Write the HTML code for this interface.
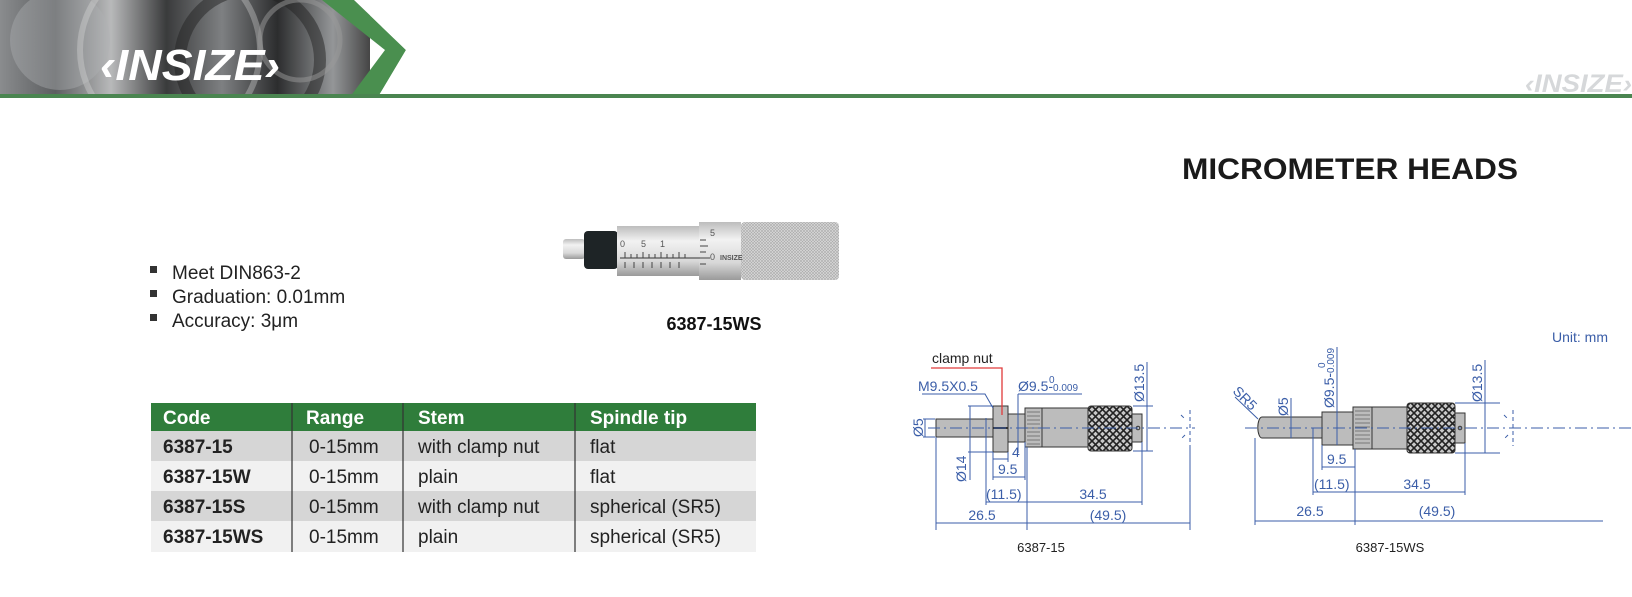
<!DOCTYPE html>
<html><head><meta charset="utf-8"><style>
html,body{margin:0;padding:0;background:#fff;}
svg{display:block;font-family:"Liberation Sans",Arial,sans-serif;}
</style></head><body>
<svg width="1632" height="597" viewBox="0 0 1632 597" xmlns="http://www.w3.org/2000/svg">
<defs>
<linearGradient id="ph" x1="0" x2="1" y1="0" y2="0">
<stop offset="0" stop-color="#8a8c8e"/><stop offset="0.15" stop-color="#5c5e60"/><stop offset="0.3" stop-color="#b8b9ba"/><stop offset="0.45" stop-color="#3a3b3c"/><stop offset="0.6" stop-color="#7e8082"/><stop offset="0.75" stop-color="#2c2d2e"/><stop offset="0.9" stop-color="#949698"/><stop offset="1" stop-color="#454545"/>
</linearGradient>
<clipPath id="hc"><rect x="0" y="0" width="400" height="95"/></clipPath>
<pattern id="kn" width="7" height="7" patternUnits="userSpaceOnUse">
<rect width="7" height="7" fill="#c8c8c8"/>
<path d="M0 0L7 7M7 0L0 7" stroke="#222" stroke-width="1.6"/>
</pattern>
<pattern id="kn2" width="3" height="3" patternUnits="userSpaceOnUse">
<rect width="3" height="3" fill="#d8d8d8"/><path d="M0 0L3 3M3 0L0 3" stroke="#aaa" stroke-width="0.6"/>
</pattern>
<linearGradient id="sil" x1="0" x2="0" y1="0" y2="1">
<stop offset="0" stop-color="#bdbdbd"/><stop offset="0.3" stop-color="#f2f2f2"/><stop offset="0.7" stop-color="#d8d8d8"/><stop offset="1" stop-color="#9a9a9a"/>
</linearGradient>
</defs>

<!-- header -->
<g clip-path="url(#hc)">
<rect x="0" y="0" width="370" height="97" fill="url(#ph)"/>
<circle cx="60" cy="40" r="50" fill="#b0b2b4" opacity="0.4"/>
<circle cx="250" cy="60" r="70" fill="none" stroke="#222" stroke-width="12" opacity="0.5"/>
<circle cx="170" cy="50" r="90" fill="none" stroke="#ddd" stroke-width="6" opacity="0.35"/>
<circle cx="300" cy="40" r="40" fill="none" stroke="#999" stroke-width="5" opacity="0.5"/>
</g>
<polygon points="322,0 354,0 406,50 378,97 350,97 385,50" fill="#4a8f4f"/>
<polygon points="354,0 420,0 420,97 378,97 406,50" fill="#fff"/>
<rect x="0" y="94" width="1632" height="4" fill="#4a8550"/>
<text x="100" y="80" font-size="44" font-weight="bold" font-style="italic" fill="#fff" textLength="180" lengthAdjust="spacingAndGlyphs">‹INSIZE›</text>
<text x="1525" y="92" font-size="25" font-weight="bold" font-style="italic" fill="#d6d8da" textLength="107" lengthAdjust="spacingAndGlyphs">‹INSIZE›</text>

<text x="1182" y="179" font-size="30" font-weight="bold" fill="#1a1a1a" textLength="336" lengthAdjust="spacingAndGlyphs">MICROMETER HEADS</text>

<!-- bullets -->
<g font-size="19" fill="#222">
<rect x="150" y="266" width="7" height="7" fill="#333"/><text x="172" y="279">Meet DIN863-2</text>
<rect x="150" y="290" width="7" height="7" fill="#333"/><text x="172" y="303">Graduation: 0.01mm</text>
<rect x="150" y="314" width="7" height="7" fill="#333"/><text x="172" y="327">Accuracy: 3μm</text>
</g>

<!-- product photo -->
<rect x="563" y="239" width="22" height="20" rx="3" fill="url(#sil)"/>
<rect x="584" y="231" width="34" height="38" rx="4" fill="#1e2426"/>
<rect x="617" y="226" width="82" height="50" fill="url(#sil)"/>
<rect x="699" y="222" width="42" height="58" fill="url(#sil)"/>
<rect x="741" y="222" width="98" height="58" rx="4" fill="url(#kn2)"/>
<line x1="620" y1="258" x2="700" y2="258" stroke="#333" stroke-width="1"/>
<g stroke="#444" stroke-width="1">
<path d="M625 252V258M631 254V258M637 254V258M643 252V258M649 254V258M655 254V258M661 252V258M667 254V258M673 254V258M679 252V258M685 254V258"/>
<path d="M625 262V268M634 262V268M643 262V268M652 262V268M661 262V268M670 262V268M679 262V268"/>
<path d="M700 240H706M700 246H708M700 252H706M700 258H710M700 264H706"/>
</g>
<g font-size="9" fill="#555"><text x="620" y="247">0</text><text x="641" y="247">5</text><text x="660" y="247">1</text><text x="710" y="260">0</text><text x="710" y="236">5</text><text x="720" y="260" font-size="7" font-weight="bold">INSIZE</text></g>
<text x="714" y="330" font-size="18" font-weight="bold" fill="#111" text-anchor="middle">6387-15WS</text>

<!-- table -->
<rect x="151" y="403" width="605" height="28" fill="#2f7d3b"/>
<rect x="151" y="431" width="605" height="30" fill="#d6d6d6"/>
<rect x="151" y="461" width="605" height="30" fill="#f1f1f1"/>
<rect x="151" y="491" width="605" height="30" fill="#d6d6d6"/>
<rect x="151" y="521" width="605" height="31" fill="#f1f1f1"/>
<g stroke="#333" stroke-width="1.2"><line x1="292" y1="403" x2="292" y2="552"/><line x1="403" y1="403" x2="403" y2="552"/><line x1="575" y1="403" x2="575" y2="552"/></g>
<g font-size="19" font-weight="bold" fill="#fff"><text x="163" y="424">Code</text><text x="306" y="424">Range</text><text x="418" y="424">Stem</text><text x="590" y="424">Spindle tip</text></g>
<g font-size="19" fill="#222">
<text x="163" y="453" font-weight="bold">6387-15</text><text x="309" y="453">0-15mm</text><text x="418" y="453">with clamp nut</text><text x="590" y="453">flat</text>
<text x="163" y="483" font-weight="bold">6387-15W</text><text x="309" y="483">0-15mm</text><text x="418" y="483">plain</text><text x="590" y="483">flat</text>
<text x="163" y="513" font-weight="bold">6387-15S</text><text x="309" y="513">0-15mm</text><text x="418" y="513">with clamp nut</text><text x="590" y="513">spherical (SR5)</text>
<text x="163" y="543" font-weight="bold">6387-15WS</text><text x="309" y="543">0-15mm</text><text x="418" y="543">plain</text><text x="590" y="543">spherical (SR5)</text>
</g>

<!-- LEFT DRAWING -->
<g stroke="#333" stroke-width="1">
<rect x="936" y="419" width="57" height="18" fill="#bcbcbc"/>
<rect x="993" y="406" width="15" height="46" fill="#bcbcbc"/>
<line x1="993" y1="428" x2="1008" y2="428" stroke-width="2"/>
<rect x="1008" y="414" width="17" height="28" fill="#bcbcbc"/>
<rect x="1025" y="408" width="17" height="39" fill="#bcbcbc"/>
<path d="M1027 412H1040M1027 416H1040M1027 420H1040M1027 424H1040M1027 428H1040M1027 432H1040M1027 436H1040M1027 440H1040M1027 444H1040" stroke-width="0.6"/>
<rect x="1042" y="408" width="46" height="39" fill="#bcbcbc"/>
<rect x="1088" y="406" width="44" height="45" rx="3" fill="url(#kn)"/>
<rect x="1132" y="414" width="10" height="28" fill="#bcbcbc"/>
<circle cx="1138" cy="428" r="1.8" fill="none"/>
</g>
<g stroke="#3b5ea8" stroke-width="1" fill="none">
<line x1="928" y1="428" x2="1195" y2="428" stroke-dasharray="12,4,2,4"/>
<path d="M1181 415l4 4M1185 435l-4 4M1190 410V446" stroke-dasharray="4,3"/>
<path d="M923 419H935M923 437H935M925 419V437"/>
<path d="M968 406H993M968 452H993M970 406V480"/>
<path d="M993 452V480M1008 452V462M993 459H1008M1025 442V480M993 477H1025"/>
<path d="M986 418V505M1027 447V530M1142 442V505M986 502H1142M936 437V530M936 523H1190M1190 446V530"/>
<path d="M1133 406H1153M1133 451H1153M1147 362V451"/>
<path d="M1018 394H1082M1018 394V453"/>
<path d="M922 394H985L993 408"/>
</g>
<path d="M931 368H1002V415" stroke="#e03a3a" stroke-width="1.3" fill="none"/>
<g font-size="14" fill="#3b5ea8">
<text x="932" y="363" fill="#222">clamp nut</text>
<text x="918" y="391">M9.5X0.5</text>
<text x="1018" y="391">Ø9.5-<tspan font-size="10">0.009</tspan></text>
<text x="1049" y="383" font-size="10">0</text>
<text transform="translate(923,437) rotate(-90)">Ø5</text>
<text transform="translate(966,482) rotate(-90)">Ø14</text>
<text transform="translate(1144,402) rotate(-90)">Ø13.5</text>
<text x="1012" y="457">4</text>
<text x="998" y="474">9.5</text>
<text x="986" y="499">(11.5)</text>
<text x="1093" y="499" text-anchor="middle">34.5</text>
<text x="982" y="520" text-anchor="middle">26.5</text>
<text x="1108" y="520" text-anchor="middle">(49.5)</text>
</g>
<text x="1041" y="552" font-size="13" fill="#222" text-anchor="middle">6387-15</text>

<!-- RIGHT DRAWING -->
<g stroke="#333" stroke-width="1">
<path d="M1262 417H1322V438H1262A4 10 0 0 1 1262 417Z" fill="#bcbcbc"/>
<rect x="1322" y="412" width="31" height="33" fill="#bcbcbc"/>
<rect x="1353" y="407" width="19" height="42" fill="#bcbcbc"/>
<path d="M1355 411H1370M1355 415H1370M1355 419H1370M1355 423H1370M1355 427H1370M1355 431H1370M1355 435H1370M1355 439H1370M1355 443H1370" stroke-width="0.6"/>
<rect x="1372" y="407" width="35" height="42" fill="#bcbcbc"/>
<rect x="1407" y="403" width="48" height="50" rx="3" fill="url(#kn)"/>
<rect x="1455" y="413" width="10" height="30" fill="#bcbcbc"/>
<circle cx="1460" cy="428" r="1.8" fill="none"/>
</g>
<g stroke="#3b5ea8" stroke-width="1" fill="none">
<line x1="1245" y1="428" x2="1632" y2="428" stroke-dasharray="12,4,2,4"/>
<path d="M1504 415l4 4M1508 435l-4 4M1513 410V446" stroke-dasharray="4,3"/>
<path d="M1235 397L1258 419M1291 398V438M1337 347V445"/>
<path d="M1455 403H1500M1455 453H1500M1485 360V453"/>
<path d="M1322 445V470M1355 449V525M1322 467H1355M1313 428V495M1313 492H1465M1465 443V495"/>
<path d="M1255 438V525M1255 521H1603"/>
</g>
<g font-size="14" fill="#3b5ea8">
<text x="1608" y="342" text-anchor="end">Unit: mm</text>
<text transform="translate(1232,392) rotate(45)">SR5</text>
<text transform="translate(1288,416) rotate(-90)">Ø5</text>
<text transform="translate(1334,408) rotate(-90)">Ø9.5-<tspan font-size="10">0.009</tspan></text>
<text transform="translate(1325,368) rotate(-90)" font-size="10">0</text>
<text transform="translate(1482,402) rotate(-90)">Ø13.5</text>
<text x="1327" y="464">9.5</text>
<text x="1314" y="489">(11.5)</text>
<text x="1417" y="489" text-anchor="middle">34.5</text>
<text x="1310" y="516" text-anchor="middle">26.5</text>
<text x="1437" y="516" text-anchor="middle">(49.5)</text>
</g>
<text x="1390" y="552" font-size="13" fill="#222" text-anchor="middle">6387-15WS</text>
</svg>
</body></html>
